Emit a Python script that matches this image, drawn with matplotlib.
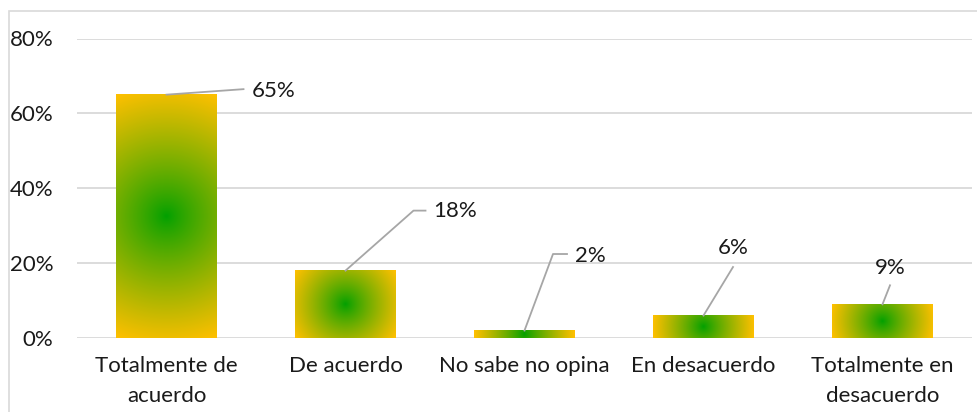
import numpy as np
import matplotlib
matplotlib.use('Agg')
from matplotlib import pyplot as plt
from matplotlib.patches import Rectangle
from matplotlib.lines import Line2D

# datos del grafico
categorias = ['Totalmente de\nacuerdo', 'De acuerdo', 'No sabe no opina',
              'En desacuerdo', 'Totalmente en\ndesacuerdo']
valores = [0.65, 0.18, 0.02, 0.06, 0.09]
etiquetas = ['65%', '18%', '2%', '6%', '9%']
yticks = [0.0, 0.2, 0.4, 0.6, 0.8]
ytick_labels = ['0%', '20%', '40%', '60%', '80%']

# posiciones de las etiquetas (pixeles respecto al centro superior de la barra, y hacia abajo)
# (codo de la linea, fin de la linea, texto, alineacion)
lineas = [
    ((77, -5.5), (77, -5.5), (85, -3.5), 'left'),
    ((68, -60), (80, -60), (88, -59.5), 'left'),
    ((28.5, -76.5), (42.5, -76.5), (50.5, -74.5), 'left'),
    ((29.5, -48.5), (29.5, -48.5), (29.5, -68), 'center'),
    ((7.5, -19), (7.5, -19), (7.5, -36.5), 'center'),
]

W, H = 977, 412
plt.rcParams['font.family'] = ['Lato', 'DejaVu Sans']
fig = plt.figure(figsize=(W / 100, H / 100), dpi=100)
ax = fig.add_axes([77 / W, (H - 338) / H, (972 - 77) / W, (338 - 38.5) / H])

x = np.arange(len(valores))
ancho = 0.56
ax.set_xlim(-0.5, len(valores) - 0.5)
ax.set_ylim(0, 0.8)

# lineas de cuadricula
for t in yticks:
    ax.axhline(t, color='#d9d9d9', lw=1.3, zorder=0)

# barras con degradado radial (verde al centro, amarillo en las esquinas)
verde = np.array([0, 160, 0]) / 255
amarillo = np.array([255, 192, 0]) / 255
for xi, v in zip(x, valores):
    p0 = ax.transData.transform((xi - ancho / 2, 0))
    p1 = ax.transData.transform((xi + ancho / 2, v))
    wpx = max(int(round(p1[0] - p0[0])), 2)
    hpx = max(int(round(p1[1] - p0[1])), 2)
    uu, vv = np.meshgrid(np.linspace(-wpx / 2, wpx / 2, wpx), np.linspace(-hpx / 2, hpx / 2, hpx))
    d = np.sqrt(uu ** 2 + vv ** 2) / np.sqrt((wpx / 2) ** 2 + (hpx / 2) ** 2)
    d = np.clip(d, 0, 1) ** 0.85
    d = d[..., None]
    img = verde * (1 - d) + amarillo * d
    ax.imshow(img, extent=(xi - ancho / 2, xi + ancho / 2, 0, v), aspect='auto',
              interpolation='bilinear', zorder=2)

ax.set_xlim(-0.5, len(valores) - 0.5)
ax.set_ylim(0, 0.8)

# etiquetas con lineas guia
for xi, v, et, (codo, fin, txt, ha) in zip(x, valores, etiquetas, lineas):
    bx, by = ax.transData.transform((xi, v))
    pts = [(bx, by), (bx + codo[0], by - codo[1]), (bx + fin[0], by - fin[1])]
    xs = [p[0] / W for p in pts]
    ys = [p[1] / H for p in pts]
    fig.add_artist(Line2D(xs, ys, color='#a6a6a6', lw=1.3, transform=fig.transFigure, zorder=5))
    fig.text((bx + txt[0]) / W, (by - txt[1]) / H, et, ha=ha, va='center',
             fontsize=16, color='#1a1a1a')

ax.set_yticks(yticks)
ax.set_yticklabels(ytick_labels)
ax.set_xticks(x)
ax.set_xticklabels(categorias, linespacing=1.6)
ax.tick_params(axis='both', length=0, labelsize=16, labelcolor='#1a1a1a')
ax.tick_params(axis='x', pad=13)
ax.tick_params(axis='y', pad=17)
for s in ax.spines.values():
    s.set_visible(False)

# borde del grafico
fig.add_artist(Rectangle((8.5 / W, -0.05), 1.1, (H - 10.5) / H + 0.05, transform=fig.transFigure,
                         fill=False, edgecolor='#d9d9d9', lw=1.2))

fig.savefig('out.png', dpi=100)
